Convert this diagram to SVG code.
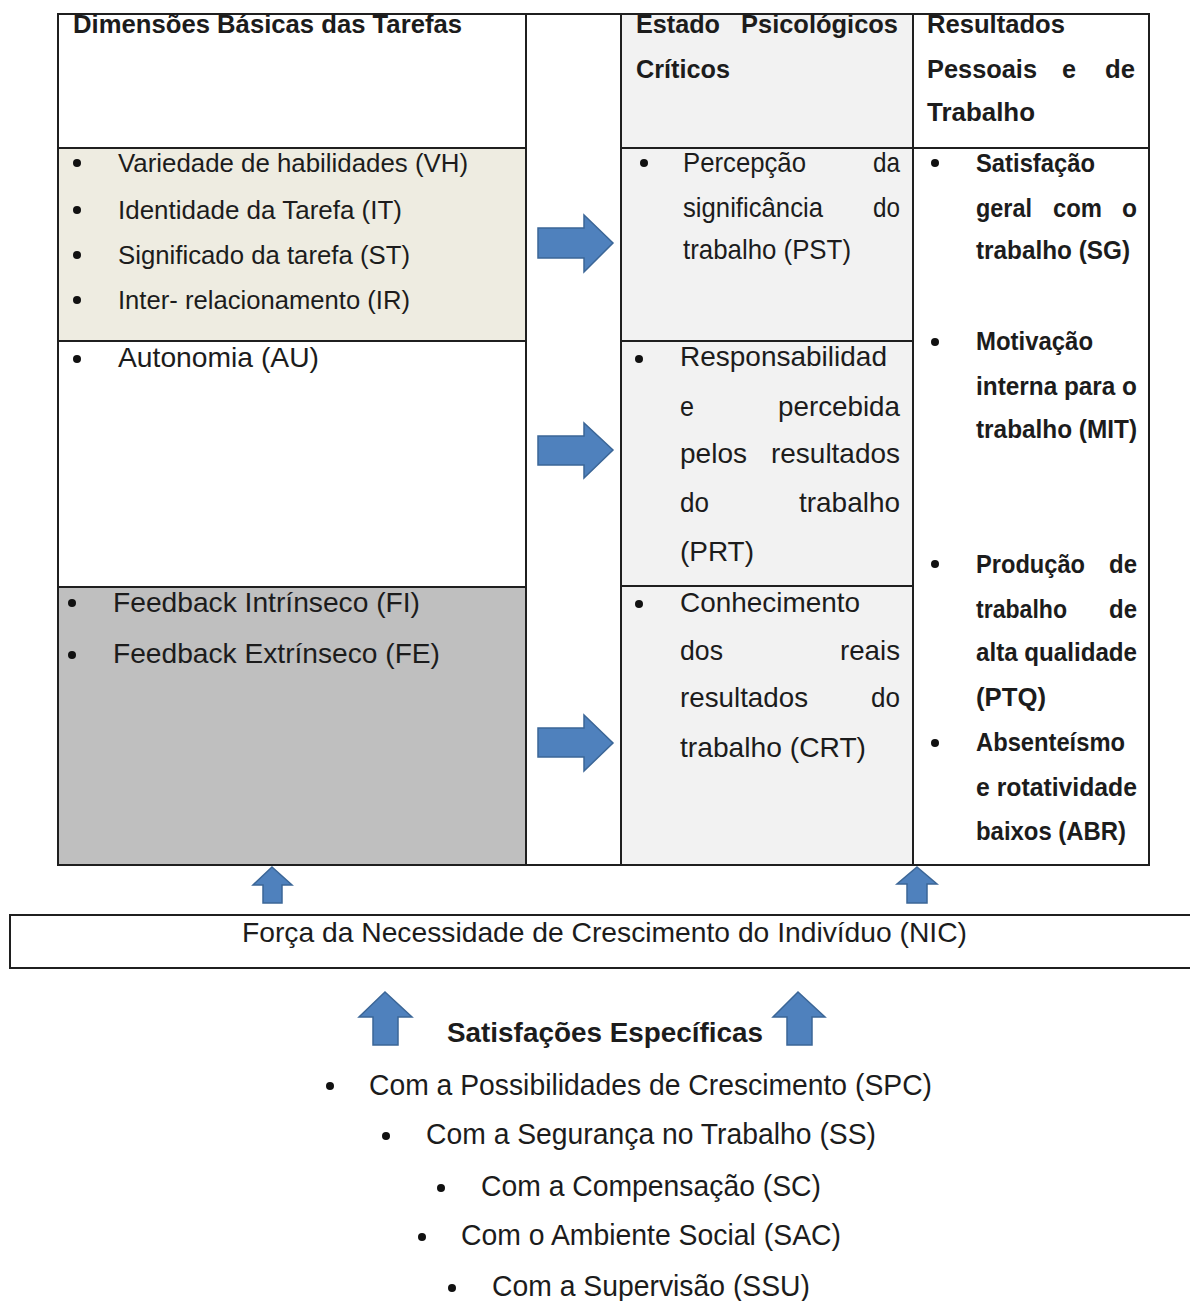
<svg xmlns="http://www.w3.org/2000/svg" width="1190" height="1301" viewBox="0 0 1190 1301">
<defs>
<style>
.cell{stroke:#1f1f1f;stroke-width:2}
.ln{stroke:#1f1f1f;stroke-width:2;fill:none}
.t{font-family:"Liberation Sans",Arial,sans-serif;fill:#1c1c1c}
.h{font-size:25px;font-weight:bold}
.i{font-size:26px}
.m{font-size:28px}
.r{font-size:25px;font-weight:bold}
.s{font-size:29px}
.arr{fill:#4F81BD;stroke:#3B6697;stroke-width:1.5;stroke-linejoin:miter}
.dot{fill:#111}
</style>
</defs>
<rect width="1190" height="1301" fill="#fff"/>

<g id="frame">
<line class="ln" x1="58" y1="14" x2="1149" y2="14"/>
<line class="ln" x1="58" y1="865" x2="1149" y2="865"/>
</g>

<g id="dim-header">
<rect class="cell" x="58" y="14" width="468" height="134" fill="#fff"/>
<text class="t h" x="73" y="33" textLength="389" lengthAdjust="spacingAndGlyphs">Dimensões Básicas das Tarefas</text>
</g>
<g id="dim-row1">
<rect class="cell" x="58" y="148" width="468" height="193" fill="#EEECE1"/>
<circle class="dot" cx="77" cy="163" r="4"/>
<text class="t i" x="118" y="172" textLength="350" lengthAdjust="spacingAndGlyphs">Variedade de habilidades (VH)</text>
<circle class="dot" cx="77" cy="210" r="4"/>
<text class="t i" x="118" y="219" textLength="284" lengthAdjust="spacingAndGlyphs">Identidade da Tarefa (IT)</text>
<circle class="dot" cx="77" cy="255" r="4"/>
<text class="t i" x="118" y="264" textLength="292" lengthAdjust="spacingAndGlyphs">Significado da tarefa (ST)</text>
<circle class="dot" cx="77" cy="300" r="4"/>
<text class="t i" x="118" y="309" textLength="292" lengthAdjust="spacingAndGlyphs">Inter- relacionamento (IR)</text>
</g>
<g id="dim-row2">
<rect class="cell" x="58" y="341" width="468" height="246" fill="#fff"/>
<circle class="dot" cx="77" cy="359" r="4"/>
<text class="t m" x="118" y="367" textLength="201" lengthAdjust="spacingAndGlyphs">Autonomia (AU)</text>
</g>
<g id="dim-row3">
<rect class="cell" x="58" y="587" width="468" height="278" fill="#BFBFBF"/>
<circle class="dot" cx="72" cy="603" r="4"/>
<text class="t m" x="113" y="612" textLength="307" lengthAdjust="spacingAndGlyphs">Feedback Intrínseco (FI)</text>
<circle class="dot" cx="72" cy="655" r="4"/>
<text class="t m" x="113" y="663" textLength="327" lengthAdjust="spacingAndGlyphs">Feedback Extrínseco (FE)</text>
</g>

<g id="gap-column">
<line class="ln" x1="526" y1="14" x2="526" y2="865"/>
<line class="ln" x1="621" y1="14" x2="621" y2="865"/>
</g>

<g id="psi-header">
<rect class="cell" x="621" y="14" width="292" height="134" fill="#F2F2F2"/>
<text class="t h" x="636" y="33" textLength="84" lengthAdjust="spacingAndGlyphs">Estado</text>
<text class="t h" x="741" y="33" textLength="157" lengthAdjust="spacingAndGlyphs">Psicológicos</text>
<text class="t h" x="636" y="78" textLength="94" lengthAdjust="spacingAndGlyphs">Críticos</text>
</g>
<g id="psi-pst">
<rect class="cell" x="621" y="148" width="292" height="193" fill="#F2F2F2"/>
<circle class="dot" cx="644" cy="163" r="4"/>
<text class="t m" x="683" y="172" textLength="123" lengthAdjust="spacingAndGlyphs">Percepção</text>
<text class="t m" x="873" y="172" textLength="27" lengthAdjust="spacingAndGlyphs">da</text>
<text class="t m" x="683" y="217" textLength="140" lengthAdjust="spacingAndGlyphs">significância</text>
<text class="t m" x="873" y="217" textLength="27" lengthAdjust="spacingAndGlyphs">do</text>
<text class="t m" x="683" y="259" textLength="168" lengthAdjust="spacingAndGlyphs">trabalho (PST)</text>
</g>
<g id="psi-prt">
<rect class="cell" x="621" y="341" width="292" height="245" fill="#F2F2F2"/>
<circle class="dot" cx="639" cy="359" r="4"/>
<text class="t m" x="680" y="366" textLength="207" lengthAdjust="spacingAndGlyphs">Responsabilidad</text>
<text class="t m" x="680" y="416" textLength="14" lengthAdjust="spacingAndGlyphs">e</text>
<text class="t m" x="778" y="416" textLength="122" lengthAdjust="spacingAndGlyphs">percebida</text>
<text class="t m" x="680" y="463" textLength="67" lengthAdjust="spacingAndGlyphs">pelos</text>
<text class="t m" x="771" y="463" textLength="129" lengthAdjust="spacingAndGlyphs">resultados</text>
<text class="t m" x="680" y="512" textLength="29" lengthAdjust="spacingAndGlyphs">do</text>
<text class="t m" x="799" y="512" textLength="101" lengthAdjust="spacingAndGlyphs">trabalho</text>
<text class="t m" x="680" y="561" textLength="74" lengthAdjust="spacingAndGlyphs">(PRT)</text>
</g>
<g id="psi-crt">
<rect class="cell" x="621" y="586" width="292" height="279" fill="#F2F2F2"/>
<circle class="dot" cx="639" cy="604" r="4"/>
<text class="t m" x="680" y="612" textLength="180" lengthAdjust="spacingAndGlyphs">Conhecimento</text>
<text class="t m" x="680" y="660" textLength="43" lengthAdjust="spacingAndGlyphs">dos</text>
<text class="t m" x="840" y="660" textLength="60" lengthAdjust="spacingAndGlyphs">reais</text>
<text class="t m" x="680" y="707" textLength="128" lengthAdjust="spacingAndGlyphs">resultados</text>
<text class="t m" x="871" y="707" textLength="29" lengthAdjust="spacingAndGlyphs">do</text>
<text class="t m" x="680" y="757" textLength="186" lengthAdjust="spacingAndGlyphs">trabalho (CRT)</text>
</g>

<g id="res-header">
<rect class="cell" x="913" y="14" width="236" height="134" fill="#fff"/>
<text class="t h" x="927" y="33" textLength="138" lengthAdjust="spacingAndGlyphs">Resultados</text>
<text class="t h" x="927" y="78" textLength="110" lengthAdjust="spacingAndGlyphs">Pessoais</text>
<text class="t h" x="1062" y="78" textLength="14" lengthAdjust="spacingAndGlyphs">e</text>
<text class="t h" x="1105" y="78" textLength="30" lengthAdjust="spacingAndGlyphs">de</text>
<text class="t h" x="927" y="121" textLength="108" lengthAdjust="spacingAndGlyphs">Trabalho</text>
</g>
<g id="res-body">
<rect class="cell" x="913" y="148" width="236" height="717" fill="#fff"/>
<circle class="dot" cx="935" cy="163" r="4"/>
<text class="t r" x="976" y="172" textLength="119" lengthAdjust="spacingAndGlyphs">Satisfação</text>
<text class="t r" x="976" y="217" textLength="56" lengthAdjust="spacingAndGlyphs">geral</text>
<text class="t r" x="1053" y="217" textLength="49" lengthAdjust="spacingAndGlyphs">com</text>
<text class="t r" x="1122" y="217" textLength="15" lengthAdjust="spacingAndGlyphs">o</text>
<text class="t r" x="976" y="259" textLength="154" lengthAdjust="spacingAndGlyphs">trabalho (SG)</text>
<circle class="dot" cx="935" cy="342" r="4"/>
<text class="t r" x="976" y="350" textLength="117" lengthAdjust="spacingAndGlyphs">Motivação</text>
<text class="t r" x="976" y="395" textLength="161" lengthAdjust="spacingAndGlyphs">interna para o</text>
<text class="t r" x="976" y="438" textLength="161" lengthAdjust="spacingAndGlyphs">trabalho (MIT)</text>
<circle class="dot" cx="935" cy="564" r="4"/>
<text class="t r" x="976" y="573" textLength="109" lengthAdjust="spacingAndGlyphs">Produção</text>
<text class="t r" x="1109" y="573" textLength="28" lengthAdjust="spacingAndGlyphs">de</text>
<text class="t r" x="976" y="618" textLength="91" lengthAdjust="spacingAndGlyphs">trabalho</text>
<text class="t r" x="1109" y="618" textLength="28" lengthAdjust="spacingAndGlyphs">de</text>
<text class="t r" x="976" y="661" textLength="161" lengthAdjust="spacingAndGlyphs">alta qualidade</text>
<text class="t r" x="976" y="706" textLength="70" lengthAdjust="spacingAndGlyphs">(PTQ)</text>
<circle class="dot" cx="935" cy="743" r="4"/>
<text class="t r" x="976" y="751" textLength="149" lengthAdjust="spacingAndGlyphs">Absenteísmo</text>
<text class="t r" x="976" y="796" textLength="161" lengthAdjust="spacingAndGlyphs">e rotatividade</text>
<text class="t r" x="976" y="840" textLength="150" lengthAdjust="spacingAndGlyphs">baixos (ABR)</text>
</g>

<g id="nic">
<rect class="cell" x="10" y="915" width="1190" height="53" fill="#fff"/>
<text class="t" style="font-size:28px" x="242" y="942" textLength="725" lengthAdjust="spacingAndGlyphs">Força da Necessidade de Crescimento do Indivíduo (NIC)</text>
</g>

<g id="satisfacoes">
<text class="t" style="font-size:28px;font-weight:bold" x="447" y="1042" textLength="316" lengthAdjust="spacingAndGlyphs">Satisfações Específicas</text>
<circle class="dot" cx="330" cy="1086" r="4"/>
<text class="t s" x="369" y="1095" textLength="563" lengthAdjust="spacingAndGlyphs">Com a Possibilidades de Crescimento (SPC)</text>
<circle class="dot" cx="386" cy="1136" r="4"/>
<text class="t s" x="426" y="1144" textLength="450" lengthAdjust="spacingAndGlyphs">Com a Segurança no Trabalho (SS)</text>
<circle class="dot" cx="441" cy="1188" r="4"/>
<text class="t s" x="481" y="1196" textLength="340" lengthAdjust="spacingAndGlyphs">Com a Compensação (SC)</text>
<circle class="dot" cx="422" cy="1237" r="4"/>
<text class="t s" x="461" y="1245" textLength="380" lengthAdjust="spacingAndGlyphs">Com o Ambiente Social (SAC)</text>
<circle class="dot" cx="452" cy="1288" r="4"/>
<text class="t s" x="492" y="1296" textLength="318" lengthAdjust="spacingAndGlyphs">Com a Supervisão (SSU)</text>
</g>

<g id="connectors">
<polygon class="arr" points="538,228 584,228 584,215 613,243 584,272 584,258 538,258"/>
<polygon class="arr" points="538,436 584,436 584,423 613,450 584,478 584,465 538,465"/>
<polygon class="arr" points="538,728 584,728 584,715 613,743 584,771 584,757 538,757"/>
<polygon class="arr" points="272,867 292,885 282,885 282,903 263,903 263,885 253,885"/>
<polygon class="arr" points="917,867 937,884 927,884 927,903 907,903 907,884 897,884"/>
<polygon class="arr" points="385,992 412,1017 398,1017 398,1045 373,1045 373,1017 359,1017"/>
<polygon class="arr" points="798,992 825,1017 812,1017 812,1045 787,1045 787,1017 773,1017"/>
</g>
</svg>
